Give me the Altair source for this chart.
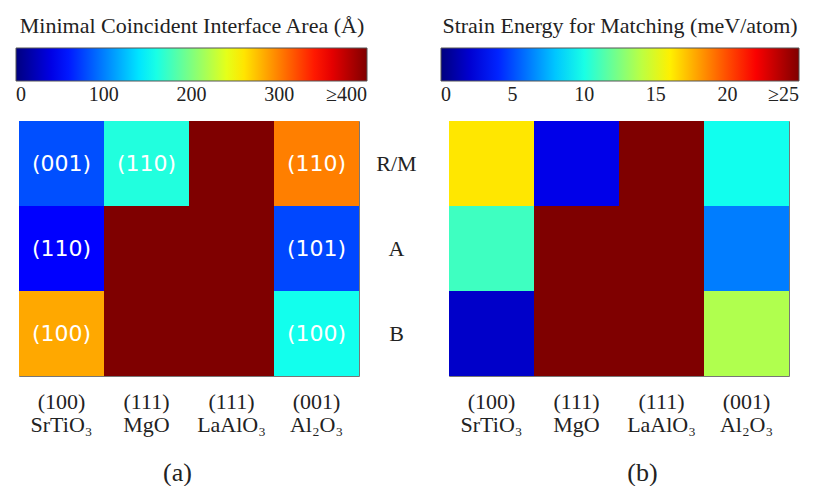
import altair as alt
import pandas as pd

substrates = ["SrTiO₃", "MgO", "LaAlO₃", "Al₂O₃"]
facets = ["(100)", "(111)", "(111)", "(001)"]
phases = ["R/M", "A", "B"]
area = [[81, 163, 400, 300],
        [50, 400, 400, 78],
        [284, 400, 400, 157]]
planes = [["(001)", "(110)", "", "(110)"],
          ["(110)", "", "", "(101)"],
          ["(100)", "", "", "(100)"]]
strain = [[16.2, 2.6, 25, 9.8],
          [10.9, 25, 25, 6.2],
          [1.8, 25, 25, 13.7]]
area_ticks = [0, 100, 200, 300, 400]
strain_ticks = [0, 5, 10, 15, 20, 25]
jet = ["#00007f", "#0000ff", "#007fff", "#00ffff", "#7fff7f",
       "#ffff00", "#ff7f00", "#ff0000", "#7f0000"]

cols = [f"{f}\n{s}" for f, s in zip(facets, substrates)]
rows = []
for i, p in enumerate(phases):
    for j, c in enumerate(cols):
        rows.append({"col": c, "phase": p, "area": area[i][j],
                     "plane": planes[i][j], "strain": strain[i][j]})
df = pd.DataFrame(rows)

SERIF = "Times New Roman, Liberation Serif, Times, serif"
W, H = 340, 255


def xaxis(title, tx):
    return alt.X("col:N", sort=cols, title=title,
                 scale=alt.Scale(paddingInner=0, paddingOuter=0),
                 axis=alt.Axis(labelExpr="split(datum.label, '\\n')", labelAngle=0,
                               labelFont=SERIF, labelFontSize=22, labelColor="#222",
                               labelLineHeight=23, labelPadding=15, domain=False,
                               ticks=False, titleFont=SERIF, titleFontSize=26,
                               titleFontWeight="normal", titleColor="#222",
                               titlePadding=24, titleX=tx))


def legend(title, ticks, top, x, length):
    return alt.Legend(orient="none", legendX=x, legendY=-105, direction="horizontal",
                      gradientLength=length, gradientThickness=33,
                      title=title, titleFont=SERIF, titleFontSize=22, titleLimit=0,
                      titleFontWeight="normal", titleColor="#222", titlePadding=10,
                      titleAnchor="middle", values=ticks,
                      labelExpr=f"datum.value >= {top} ? '≥{top}' : datum.label",
                      labelFont=SERIF, labelFontSize=20, labelColor="#222",
                      labelAlign="center", labelOffset=4,
                      gradientStrokeColor="#555", gradientStrokeWidth=1)


def cscale(top):
    return alt.Scale(domain=[top * k / 8 for k in range(9)], range=jet,
                     interpolate="rgb", clamp=True, nice=False, zero=False)


left_base = alt.Chart(df).encode(
    x=xaxis("(a)", 158),
    y=alt.Y("phase:N", sort=phases, title=None,
            scale=alt.Scale(paddingInner=0, paddingOuter=0),
            axis=alt.Axis(orient="right", labelFont=SERIF, labelFontSize=22,
                          labelColor="#222", labelAlign="center", labelPadding=37,
                          domain=False, ticks=False)),
)
left = alt.layer(
    left_base.mark_rect(strokeWidth=0).encode(
        color=alt.Color("area:Q", scale=cscale(400),
                        legend=legend("Minimal Coincident Interface Area (Å)",
                                      area_ticks, 400, -3, 351))),
    left_base.mark_text(font="DejaVu Sans", fontSize=22, color="white").encode(
        text="plane:N"),
).properties(width=W, height=H)

right = alt.Chart(df).mark_rect(strokeWidth=0).encode(
    x=xaxis("(b)", 193),
    y=alt.Y("phase:N", sort=phases, axis=None,
            scale=alt.Scale(paddingInner=0, paddingOuter=0)),
    color=alt.Color("strain:Q", scale=cscale(25),
                    legend=legend("Strain Energy for Matching (meV/atom)",
                                  strain_ticks, 25, -8, 358)),
).properties(width=W, height=H)

chart = alt.hconcat(left, right, spacing=90, bounds="flush").resolve_scale(
    color="independent"
).configure_view(stroke="#777", strokeWidth=1).properties(
    padding={"left": 15, "top": 15, "right": 5, "bottom": 5}
)

chart.save("out.html", embed_options={"renderer": "svg", "actions": False})
